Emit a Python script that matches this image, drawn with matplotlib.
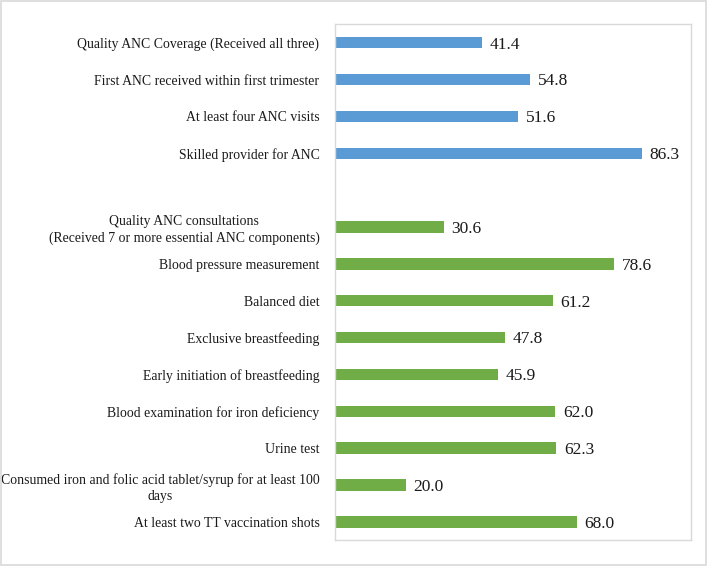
import matplotlib.pyplot as plt
from matplotlib.patches import Rectangle

# 数据
blue_labels = ['Quality ANC Coverage (Received all three)',
               'First ANC received within first trimester',
               'At least four ANC visits',
               'Skilled provider for ANC']
blue_values = [41.4, 54.8, 51.6, 86.3]

green_labels = ['Quality ANC consultations\n(Received 7 or more essential ANC components)',
                'Blood pressure measurement',
                'Balanced diet',
                'Exclusive breastfeeding',
                'Early initiation of breastfeeding',
                'Blood examination for iron deficiency',
                'Urine test',
                'Consumed iron and folic acid tablet/syrup for at least 100\ndays',
                'At least two TT vaccination shots']
green_values = [30.6, 78.6, 61.2, 47.8, 45.9, 62.0, 62.3, 20.0, 68.0]

plt.rcParams['font.family'] = ['Liberation Serif', 'DejaVu Serif']

fig = plt.figure(figsize=(7.07, 5.66), dpi=100)
ax = fig.add_axes([0.4734, 0.0455, 0.5035, 0.9116])

# 外框
fig.patches.append(Rectangle((0.001, 0.001), 0.997, 0.997, transform=fig.transFigure,
                             fill=False, edgecolor='#d9d9d9', linewidth=1.2))

# 位置：蓝色组 0-3，空一格，绿色组 5-13
blue_pos = list(range(len(blue_labels)))
green_pos = [len(blue_labels) + 1 + i for i in range(len(green_labels))]

h = 0.31
ax.barh(blue_pos, blue_values, height=h, color='#5b9bd5')
ax.barh(green_pos, green_values, height=h, color='#70ad47')

for p, v in zip(blue_pos + green_pos, blue_values + green_values):
    ax.text(v + 2.2, p + 0.05, f'{v:.1f}', va='center', ha='left', fontsize=12.5,
            color='#1a1a1a')

ax.set_yticks(blue_pos + green_pos)
ax.set_yticklabels(blue_labels + green_labels, fontsize=9.9, color='#1a1a1a',
                   multialignment='center', linespacing=1.35)
ax.tick_params(axis='y', length=0, pad=11)
ax.set_xticks([])
ax.set_xlim(0, 100)
ax.set_ylim(len(blue_labels) + len(green_labels) + 0.5, -0.5)

for s in ax.spines.values():
    s.set_color('#d9d9d9')
    s.set_linewidth(1.0)

fig.savefig('out.png', dpi=100)
